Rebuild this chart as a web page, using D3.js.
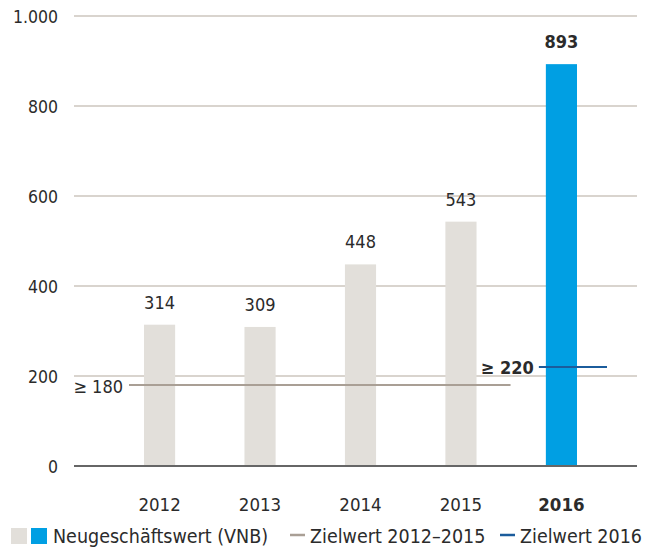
<!DOCTYPE html>
<html>
<head>
<meta charset="utf-8">
<script src="https://cdn.jsdelivr.net/npm/d3@7"></script>
<style>
  body { margin: 0; background: #fff; }
  text { font-family: "DejaVu Sans Condensed", "DejaVu Sans", sans-serif; font-stretch: condensed; fill: #2b2b2b; }
</style>
</head>
<body>
<div id="chart"></div>
<script>
const years = ["2012", "2013", "2014", "2015", "2016"];
const vnb = [314, 309, 448, 543, 893];
const yTicks = [0, 200, 400, 600, 800, 1000];
const target1 = 180; // Zielwert 2012-2015
const target2 = 220; // Zielwert 2016
const legendItems = ["Neugeschäftswert (VNB)", "Zielwert 2012\u20132015", "Zielwert 2016"];

const WIDTH = 653;
const HEIGHT = 549;
const GRAY = "#e2dfda";
const BLUE = "#009fe3";
const FONT = "DejaVu Sans Condensed";

const svg = d3
  .select("#chart")
  .append("svg")
  .attr("width", WIDTH)
  .attr("height", HEIGHT);

const x = d3.scaleBand().domain(years).range([144, 577]).paddingInner(0.69).paddingOuter(0);
const y = d3.scaleLinear().domain([0, 1000]).range([466, 16]);

// GRID
svg
  .append("g")
  .selectAll("line")
  .data(yTicks.filter((d) => d > 0))
  .enter()
  .append("line")
  .attr("x1", 74)
  .attr("x2", 637)
  .attr("y1", (d) => y(d))
  .attr("y2", (d) => y(d))
  .style("stroke", "#cdc6be")
  .style("stroke-width", "1.3px");

// Y AXIS
const fmt = (d) => d3.format(",")(d).replace(",", ".");
svg
  .append("g")
  .attr("transform", "translate(58, 0)")
  .call(d3.axisLeft(y).tickValues(yTicks).tickSize(0).tickPadding(0).tickFormat(fmt))
  .call((g) => g.select(".domain").remove())
  .selectAll("text")
  .attr("dy", "6.8")
  .style("font-family", FONT)
  .style("font-size", "17.5px")
  .style("fill", "#2b2b2b");

// BARS
svg
  .selectAll("rect.bar")
  .data(years)
  .enter()
  .append("rect")
  .attr("class", "bar")
  .attr("x", (d) => x(d))
  .attr("y", (d, i) => y(vnb[i]))
  .attr("width", x.bandwidth())
  .attr("height", (d, i) => y(0) - y(vnb[i]))
  .style("fill", (d, i) => (i === years.length - 1 ? BLUE : GRAY));

// VALUE LABELS
svg
  .selectAll("text.val")
  .data(years)
  .enter()
  .append("text")
  .attr("class", "val")
  .attr("x", (d) => x(d) + x.bandwidth() / 2)
  .attr("y", (d, i) => y(vnb[i]) - 16)
  .attr("text-anchor", "middle")
  .style("font-size", "18px")
  .style("font-weight", (d, i) => (i === years.length - 1 ? "bold" : "normal"))
  .text((d, i) => vnb[i]);

// X LABELS
svg
  .selectAll("text.year")
  .data(years)
  .enter()
  .append("text")
  .attr("class", "year")
  .attr("x", (d) => x(d) + x.bandwidth() / 2)
  .attr("y", 510.5)
  .attr("text-anchor", "middle")
  .style("font-size", "18.5px")
  .style("font-weight", (d, i) => (i === years.length - 1 ? "bold" : "normal"))
  .text((d) => d);

// ZERO LINE
svg
  .append("line")
  .attr("x1", 74)
  .attr("x2", 637)
  .attr("y1", y(0))
  .attr("y2", y(0))
  .style("stroke", "#666")
  .style("stroke-width", "2px");

// TARGET LINES
svg
  .append("line")
  .attr("x1", 129)
  .attr("x2", x("2015") + x.bandwidth() + 34)
  .attr("y1", y(target1))
  .attr("y2", y(target1))
  .style("stroke", "#a99f95")
  .style("stroke-width", "2px");

svg
  .append("text")
  .attr("x", 123)
  .attr("y", y(target1) + 8)
  .attr("text-anchor", "end")
  .style("font-size", "18px")
  .text("\u2265 " + target1);

svg
  .append("line")
  .attr("x1", x("2016") - 7)
  .attr("x2", x("2016") + x.bandwidth() + 30)
  .attr("y1", y(target2))
  .attr("y2", y(target2))
  .style("stroke", "#1b5c9c")
  .style("stroke-width", "2px");

svg
  .append("text")
  .attr("x", x("2016") - 12)
  .attr("y", y(target2) + 6.5)
  .attr("text-anchor", "end")
  .style("font-size", "18px")
  .style("font-weight", "bold")
  .text("\u2265 " + target2);

// LEGEND
const lg = svg.append("g").attr("transform", "translate(0, 536)");
lg.append("rect").attr("x", 11).attr("y", -8).attr("width", 16).attr("height", 16).style("fill", GRAY);
lg.append("rect").attr("x", 31).attr("y", -8).attr("width", 16).attr("height", 16).style("fill", BLUE);
lg.append("text").attr("x", 53).attr("y", 7).style("font-size", "19.5px").text(legendItems[0]);
lg.append("line").attr("x1", 290).attr("x2", 305).attr("y1", -1).attr("y2", -1)
  .style("stroke", "#a99f95").style("stroke-width", "2.5px");
lg.append("text").attr("x", 310).attr("y", 7).style("font-size", "19.5px").text(legendItems[1]);
lg.append("line").attr("x1", 500).attr("x2", 515).attr("y1", -1).attr("y2", -1)
  .style("stroke", "#1b5c9c").style("stroke-width", "2.5px");
lg.append("text").attr("x", 520).attr("y", 7).style("font-size", "19.5px").text(legendItems[2]);
</script>
</body>
</html>
